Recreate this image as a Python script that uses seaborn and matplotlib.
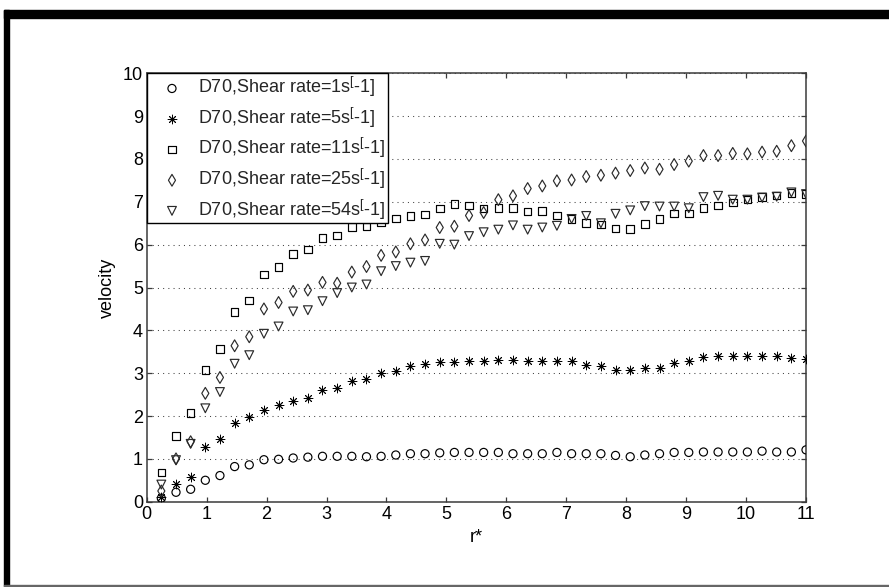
import numpy as np
import pandas as pd
import matplotlib
matplotlib.use("Agg")
import matplotlib.pyplot as plt
from matplotlib.patches import Rectangle
import seaborn as sns

# radial position r* (45 sample stations)
r_star = [0.244, 0.489, 0.733, 0.978, 1.222, 1.467, 1.711, 1.956, 2.200, 2.444,
          2.689, 2.933, 3.178, 3.422, 3.667, 3.911, 4.156, 4.400, 4.644, 4.889,
          5.133, 5.378, 5.622, 5.867, 6.111, 6.356, 6.600, 6.844, 7.089, 7.333,
          7.578, 7.822, 8.067, 8.311, 8.556, 8.800, 9.044, 9.289, 9.533, 9.778,
          10.022, 10.267, 10.511, 10.756, 11.000]

vel_rate1 = [0.08, 0.22, 0.29, 0.50, 0.61, 0.82, 0.86, 0.98, 0.99, 1.02,
             1.04, 1.06, 1.06, 1.06, 1.05, 1.06, 1.09, 1.12, 1.12, 1.14,
             1.15, 1.15, 1.15, 1.15, 1.12, 1.12, 1.12, 1.15, 1.12, 1.12,
             1.12, 1.08, 1.05, 1.09, 1.12, 1.15, 1.15, 1.16, 1.16, 1.16,
             1.16, 1.18, 1.16, 1.16, 1.21]

vel_rate5 = [0.12, 0.41, 0.58, 1.28, 1.46, 1.83, 1.97, 2.13, 2.25, 2.36,
             2.43, 2.60, 2.66, 2.82, 2.87, 3.00, 3.05, 3.17, 3.21, 3.25,
             3.26, 3.29, 3.29, 3.30, 3.30, 3.29, 3.29, 3.29, 3.29, 3.20,
             3.17, 3.07, 3.07, 3.12, 3.12, 3.23, 3.28, 3.38, 3.40, 3.41,
             3.41, 3.41, 3.41, 3.36, 3.34]

vel_rate11 = [0.68, 1.54, 2.07, 3.08, 3.56, 4.43, 4.70, 5.30, 5.48, 5.78,
              5.89, 6.16, 6.21, 6.41, 6.42, 6.52, 6.61, 6.67, 6.70, 6.84,
              6.95, 6.91, 6.84, 6.86, 6.86, 6.77, 6.78, 6.68, 6.60, 6.50,
              6.47, 6.38, 6.36, 6.48, 6.60, 6.73, 6.73, 6.85, 6.91, 6.98,
              7.05, 7.11, 7.15, 7.20, 7.18]

vel_rate25 = [0.25, 1.00, 1.40, 2.53, 2.90, 3.64, 3.85, 4.50, 4.65, 4.91,
              4.94, 5.12, 5.10, 5.36, 5.49, 5.75, 5.83, 6.02, 6.11, 6.40,
              6.43, 6.68, 6.75, 7.05, 7.14, 7.31, 7.37, 7.49, 7.51, 7.59,
              7.62, 7.67, 7.73, 7.79, 7.76, 7.87, 7.95, 8.08, 8.08, 8.13,
              8.12, 8.16, 8.18, 8.31, 8.42]

vel_rate54 = [0.40, 0.97, 1.35, 2.18, 2.56, 3.22, 3.42, 3.92, 4.09, 4.44,
              4.47, 4.68, 4.87, 5.00, 5.07, 5.38, 5.50, 5.58, 5.62, 6.02,
              6.00, 6.20, 6.29, 6.35, 6.45, 6.35, 6.40, 6.44, 6.60, 6.67,
              6.50, 6.72, 6.80, 6.90, 6.89, 6.89, 6.85, 7.11, 7.14, 7.05,
              7.05, 7.10, 7.12, 7.22, 7.18]

legend_labels = [r"D70,Shear rate=1s$^{[}$-1]",
                 r"D70,Shear rate=5s$^{[}$-1]",
                 r"D70,Shear rate=11s$^{[}$-1]",
                 r"D70,Shear rate=25s$^{[}$-1]",
                 r"D70,Shear rate=54s$^{[}$-1]"]

x_ticks = list(range(0, 12))
y_ticks = list(range(0, 11))

sns.set_theme(style="white")
plt.rcParams["font.family"] = ["Liberation Sans", "DejaVu Sans"]
plt.rcParams["mathtext.fontset"] = "custom"
plt.rcParams["mathtext.rm"] = "Liberation Sans"
plt.rcParams["mathtext.it"] = "Liberation Sans"
plt.rcParams["font.size"] = 13

FS = 13

fig = plt.figure(figsize=(8.89, 5.87), dpi=100)
fig.patch.set_facecolor("white")
ax_l, ax_r, ax_t, ax_b = 146.7, 806.0, 73.3, 501.7
ax = fig.add_axes([ax_l / 889, 1 - ax_b / 587, (ax_r - ax_l) / 889, (ax_b - ax_t) / 587])

series = [vel_rate1, vel_rate5, vel_rate11, vel_rate25, vel_rate54]
# marker, size (pt^2), edge colour
styles = [
    ("o", 34, "black"),
    ((8, 2, 0), 40, "black"),
    ("s", 30, "black"),
    ("d", 36, "#2a2a2a"),
    ("v", 40, "#2a2a2a"),
]

for vals, label, (mk, size, col) in zip(series, legend_labels, styles):
    df = pd.DataFrame({"r": r_star, "v": vals})
    if isinstance(mk, tuple):
        sns.scatterplot(data=df, x="r", y="v", marker=mk, s=size, color=col,
                        linewidth=0.65, label=label, ax=ax, zorder=3)
    else:
        sns.scatterplot(data=df, x="r", y="v", marker=mk, s=size, color=col,
                        facecolor="none", edgecolor=col, linewidth=0.85,
                        label=label, ax=ax, zorder=3)

ax.set_xlim(0, 11)
ax.set_ylim(0, 10)
ax.set_xticks(x_ticks)
ax.set_yticks(y_ticks)
ax.set_xticklabels([str(t) for t in x_ticks])
ax.set_yticklabels([str(t) for t in y_ticks])

ax.yaxis.grid(True, linestyle=(0, (1, 4)), linewidth=0.75, color="#444444")
ax.xaxis.grid(False)

for side in ["left", "right", "top", "bottom"]:
    ax.spines[side].set_visible(True)
    ax.spines[side].set_color("#3a3a3a")
    ax.spines[side].set_linewidth(1.1)

ax.tick_params(axis="both", which="major", direction="in", length=3.6, width=0.9,
               color="#3a3a3a", labelsize=FS, labelcolor="black",
               top=True, right=True, bottom=True, left=True)
ax.tick_params(axis="x", pad=2.8)
ax.tick_params(axis="y", pad=2.6)

ax.set_xlabel("r*", fontsize=FS, color="black")
ax.set_ylabel("velocity", fontsize=FS, color="black")
ax.xaxis.set_label_coords(0.5, -0.064)
ax.yaxis.set_label_coords(-0.047, 0.5)

leg_w = (388 - ax_l) / (ax_r - ax_l)
leg_h = (223 - ax_t) / (ax_b - ax_t)
leg = ax.legend(loc="upper left", bbox_to_anchor=(0, 1 - leg_h, leg_w, leg_h),
                mode="expand", borderaxespad=0,
                frameon=True, fancybox=False, framealpha=1, edgecolor="black",
                handlelength=2.6, handletextpad=0.15, borderpad=0.1,
                labelspacing=0.36, scatterpoints=1, fontsize=FS)
leg.get_frame().set_linewidth(1.0)
leg.set_zorder(5)

# window frame around the figure
fig.patches.append(Rectangle((4 / 889, 1 - 18 / 587), 885 / 889, 8 / 587,
                             transform=fig.transFigure, color="black", zorder=10))
fig.patches.append(Rectangle((4 / 889, 1 / 587), 5 / 889, (587 - 11) / 587,
                             transform=fig.transFigure, color="black", zorder=10))
fig.patches.append(Rectangle((4 / 889, 0.5 / 587), 885 / 889, 1.2 / 587,
                             transform=fig.transFigure, color="#666666", zorder=10))

fig.savefig("out.png", dpi=100, facecolor="white")
